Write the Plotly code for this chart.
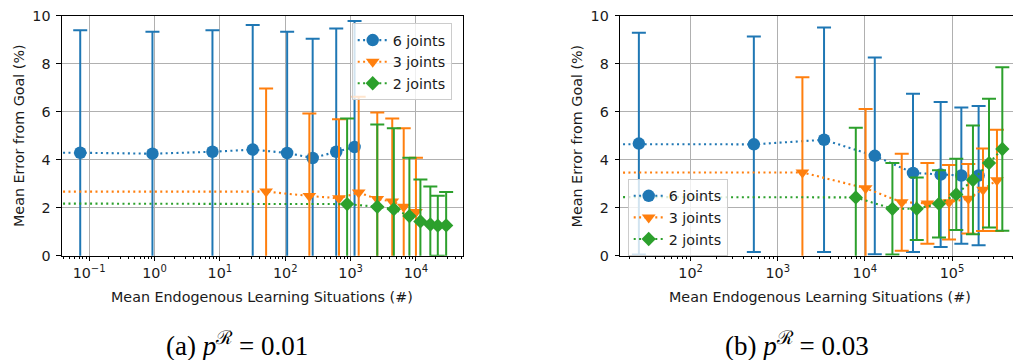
import plotly.graph_objects as go

# ---------------- data ----------------
# x = 0 runs (shown in matplotlib at the clipped far-left) are represented by a tiny positive value
X_ZERO = 1e-9

# (a) p^R = 0.01
a6_x = [X_ZERO, 0.073, 0.93, 7.7, 31.8, 107, 263, 603, 1150]
a6_y = [4.32, 4.29, 4.25, 4.33, 4.42, 4.28, 4.07, 4.33, 4.53]
a6_e = [5.10, 5.10, 5.08, 5.06, 5.19, 5.05, 4.97, 5.14, 5.25]

a3_x = [X_ZERO, 51, 234, 665, 1330, 2560, 4340, 6500, 10000]
a3_y = [2.67, 2.67, 2.49, 2.39, 2.63, 2.36, 2.26, 2.04, 1.82]
a3_e = [4.30, 4.30, 3.44, 3.30, 3.99, 3.61, 3.46, 3.27, 2.26]

a2_x = [X_ZERO, 885, 2560, 4590, 7940, 11700, 16600, 21600, 29000]
a2_y = [2.21, 2.15, 2.04, 1.94, 1.65, 1.43, 1.30, 1.25, 1.26]
a2_e = [3.57, 3.57, 3.43, 3.37, 2.43, 1.75, 1.58, 1.25, 1.39]

# (b) p^R = 0.03
b6_x = [X_ZERO, 25.5, 532, 3400, 13000, 35700, 74100, 128000, 202000]
b6_y = [4.67, 4.67, 4.64, 4.83, 4.16, 3.45, 3.38, 3.34, 3.34]
b6_e = [4.62, 4.62, 4.49, 4.68, 4.10, 3.30, 3.02, 2.84, 2.90]

b3_x = [X_ZERO, 1920, 10200, 26500, 52200, 92500, 154000, 227000, 328000]
b3_y = [3.43, 3.47, 2.81, 2.23, 2.18, 2.23, 2.375, 2.75, 3.14]
b3_e = [3.97, 3.97, 3.30, 2.02, 1.68, 1.55, 1.445, 1.72, 2.11]

b2_x = [X_ZERO, 7870, 20700, 39400, 70900, 112000, 174000, 266000, 378000]
b2_y = [2.49, 2.43, 1.955, 1.955, 2.16, 2.555, 3.155, 3.86, 4.445]
b2_e = [2.90, 2.90, 1.905, 1.305, 1.40, 1.485, 2.265, 2.68, 3.405]

series_names = ["6 joints", "3 joints", "2 joints"]
a_decades = [-1, 0, 1, 2, 3, 4]
b_decades = [2, 3, 4, 5]
y_ticks = [0, 2, 4, 6, 8, 10]
x_title = "Mean Endogenous Learning Situations (#)"
y_title = "Mean Error from Goal (%)"
captions = ["(a) <i>p</i><sup>ℛ</sup> = 0.01", "(b) <i>p</i><sup>ℛ</sup> = 0.03"]

# ---------------- style ----------------
colors = ["#1f77b4", "#ff7f0e", "#2ca02c"]
symbols = ["circle", "triangle-down", "diamond"]
msizes = [12.5, 12, 11]
FONT = "DejaVu Sans"
TXT = "#1a1a1a"

fig = go.Figure()

def add_series(xs, ys, es, i, xa, ya, legend):
    fig.add_trace(go.Scatter(
        x=xs, y=ys, mode="lines+markers", name=series_names[i],
        xaxis=xa, yaxis=ya, legend=legend,
        line=dict(color=colors[i], width=2.1, dash="2px,3.4px"),
        marker=dict(symbol=symbols[i], size=msizes[i], color=colors[i], line=dict(width=0)),
        error_y=dict(type="data", array=es, visible=True, color=colors[i], thickness=2.0, width=7),
        cliponaxis=False,
    ))

for i, (xs, ys, es) in enumerate([(a6_x, a6_y, a6_e), (a3_x, a3_y, a3_e), (a2_x, a2_y, a2_e)]):
    add_series(xs, ys, es, i, "x", "y", "legend")
for i, (xs, ys, es) in enumerate([(b6_x, b6_y, b6_e), (b3_x, b3_y, b3_e), (b2_x, b2_y, b2_e)]):
    add_series(xs, ys, es, i, "x2", "y2", "legend2")

W, H = 1013, 360

def minor_vals(decs):
    lo, hi = min(decs) - 2, max(decs) + 2
    return [m * 10 ** k for k in range(lo, hi) for m in range(2, 10)]

def sup(k):
    return "10<sup>" + (("−" + str(-k)) if k < 0 else str(k)) + "</sup>"

common_x = dict(
    type="log", showline=True, linecolor="black", linewidth=1.1, mirror=True,
    ticks="outside", ticklen=4.3, tickwidth=1.1, tickcolor="black", automargin=False,
    showgrid=True, gridcolor="#b0b0b0", gridwidth=1.1, zeroline=False,
    tickfont=dict(family=FONT, size=14.3, color=TXT),
)
common_y = dict(
    range=[0, 10], tickvals=y_ticks, showline=True, linecolor="black", linewidth=1.1,
    ticks="outside", ticklen=4.3, tickwidth=1.1, tickcolor="black", automargin=False,
    showgrid=True, gridcolor="#b0b0b0", gridwidth=1.1, zeroline=False,
    tickfont=dict(family=FONT, size=14.3, color=TXT), ticklabelstandoff=3,
    domain=[1 - 255.7 / H, 1 - 15.7 / H],
)

fig.update_layout(
    template="none",
    width=W, height=H, margin=dict(l=0, r=0, t=0, b=0, autoexpand=False),
    paper_bgcolor="white", plot_bgcolor="white",
    xaxis=dict(common_x, domain=[61.7 / W, 463 / W], range=[-1.42, 4.72], anchor="y",
               tickvals=[10 ** k for k in a_decades], ticktext=[sup(k) for k in a_decades],
               minor=dict(ticks="outside", ticklen=2.5, tickwidth=0.9, tickcolor="black",
                          showgrid=False, tickvals=minor_vals(a_decades))),
    yaxis=dict(common_y, anchor="x", mirror=True),
    xaxis2=dict(common_x, domain=[620 / W, 1.0], range=[1.19, 5.70], anchor="y2",
                tickvals=[10 ** k for k in b_decades], ticktext=[sup(k) for k in b_decades],
                minor=dict(ticks="outside", ticklen=2.5, tickwidth=0.9, tickcolor="black",
                           showgrid=False, tickvals=minor_vals(b_decades))),
    yaxis2=dict(common_y, anchor="x2", mirror=False),
    legend=dict(x=351.7 / W, y=1 - 23.3 / H, xanchor="left", yanchor="top",
                bgcolor="rgba(255,255,255,0.8)", bordercolor="#cccccc", borderwidth=1,
                font=dict(family=FONT, size=14.3, color=TXT)),
    legend2=dict(x=627.7 / W, y=1 - 179 / H, xanchor="left", yanchor="top",
                 bgcolor="rgba(255,255,255,0.8)", bordercolor="#cccccc", borderwidth=1,
                 font=dict(family=FONT, size=14.3, color=TXT)),
    showlegend=True,
)

ann = []
for xc in [18.3, 576.7]:
    ann.append(dict(text=y_title, x=xc / W, y=1 - 135.7 / H, xref="paper", yref="paper",
                    textangle=-90, showarrow=False, xanchor="center", yanchor="middle",
                    font=dict(family=FONT, size=14.3, color=TXT)))
for xc in [262.4, 820.3]:
    ann.append(dict(text=x_title, x=xc / W, y=1 - 296.7 / H, xref="paper", yref="paper",
                    showarrow=False, xanchor="center", yanchor="middle",
                    font=dict(family=FONT, size=14.3, color=TXT)))
for xc, cap in zip([236.5, 796.5], captions):
    ann.append(dict(text=cap, x=xc / W, y=1 - 344 / H, xref="paper", yref="paper",
                    showarrow=False, xanchor="center", yanchor="middle",
                    font=dict(family="Liberation Serif", size=27, color="black")))
fig.update_layout(annotations=ann)

fig.write_html(
    "out.html",
    config={"displayModeBar": False},
    post_script="document.body.style.margin='0px';document.body.style.padding='0px';"
                "document.documentElement.style.overflow='hidden';",
)
